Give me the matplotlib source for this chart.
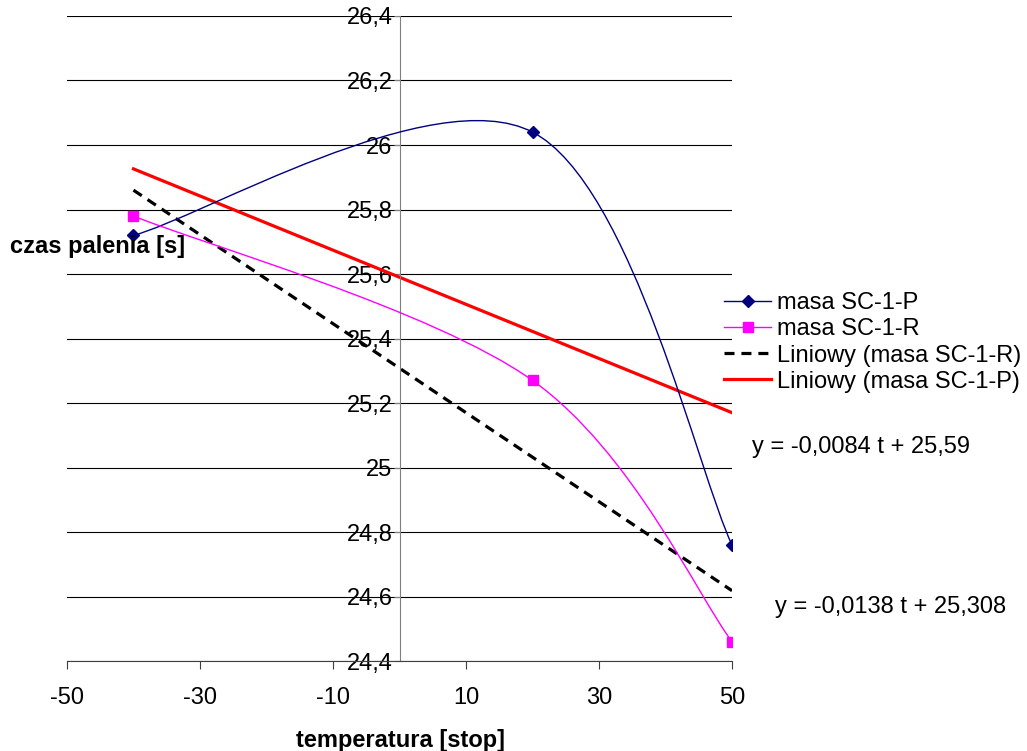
"""Czas palenia vs temperatura for masa SC-1-P / SC-1-R with linear trendlines."""

import matplotlib

matplotlib.use("Agg")
import matplotlib.pyplot as plt  # noqa: E402
from matplotlib.lines import Line2D  # noqa: E402
from matplotlib.patches import PathPatch  # noqa: E402
from matplotlib.path import Path  # noqa: E402
from matplotlib.ticker import FuncFormatter  # noqa: E402

temps = [-40, 20, 50]
masa_p = [25.72, 26.04, 24.76]
masa_r = [25.78, 25.27, 24.46]

# trendline coefficients as printed on the chart
trend_p = (-0.0084, 25.59)
trend_r = (-0.0138, 25.308)
trend_span = [-40, 50]

x_ticks = [-50, -30, -10, 10, 30, 50]
y_ticks = [24.4, 24.6, 24.8, 25.0, 25.2, 25.4, 25.6, 25.8, 26.0, 26.2, 26.4]

NAVY = "#000080"
MAGENTA = "#FF00FF"
RED = "#FF0000"
FS = 17

plt.rcParams["font.family"] = ["Liberation Sans", "DejaVu Sans"]
plt.rcParams["lines.scale_dashes"] = False
plt.rcParams["axes.unicode_minus"] = False


def smooth_path(xs, ys):
    """Excel-like smoothed line: cubic Bezier segments through the points."""
    pts = list(zip(xs, ys))
    n = len(pts)
    verts = [pts[0]]
    codes = [Path.MOVETO]
    for i in range(n - 1):
        p0 = pts[max(i - 1, 0)]
        p1 = pts[i]
        p2 = pts[i + 1]
        p3 = pts[min(i + 2, n - 1)]
        c1 = (p1[0] + (p2[0] - p0[0]) / 6, p1[1] + (p2[1] - p0[1]) / 6)
        c2 = (p2[0] - (p3[0] - p1[0]) / 6, p2[1] - (p3[1] - p1[1]) / 6)
        verts += [c1, c2, p2]
        codes += [Path.CURVE4] * 3
    return Path(verts, codes)


fig = plt.figure(figsize=(10.27, 7.51), dpi=100)
ax = fig.add_axes([0.0652, 0.1198, 0.6476, 0.8589])
ax.set_xlim(-50, 50)
ax.set_ylim(24.4, 26.4)

for y in y_ticks:
    ax.axhline(y, color="black", lw=0.8, zorder=1)

ax.add_patch(PathPatch(smooth_path(temps, masa_p), fill=False, ec=NAVY, lw=1.0, zorder=3))
ax.add_patch(PathPatch(smooth_path(temps, masa_r), fill=False, ec=MAGENTA, lw=1.0, zorder=3))
ax.plot(temps, masa_p, ls="none", marker="D", ms=6, color=NAVY, zorder=4)
ax.plot(temps, masa_r, ls="none", marker="s", ms=7, color=MAGENTA, zorder=4)

ax.plot(trend_span, [trend_r[0] * t + trend_r[1] for t in trend_span],
        color="black", lw=2.3, ls=(0, (7.2, 5)), zorder=2)
ax.plot(trend_span, [trend_p[0] * t + trend_p[1] for t in trend_span],
        color=RED, lw=2.3, zorder=2)

ax.spines["top"].set_visible(False)
ax.spines["right"].set_visible(False)
ax.spines["left"].set_position(("data", 0))
ax.spines["left"].set_color("#808080")
ax.spines["bottom"].set_color("#404040")

ax.set_xticks(x_ticks)
ax.set_yticks(y_ticks)
ax.yaxis.set_major_formatter(FuncFormatter(lambda v, _: f"{v:g}".replace(".", ",")))
ax.tick_params(axis="y", direction="out", length=4, pad=1, colors="#808080",
               labelcolor="black", labelsize=FS)
ax.tick_params(axis="x", direction="out", length=6, pad=13, colors="#404040",
               labelcolor="black", labelsize=FS)

fig.text(10 / 1027, 1 - 247 / 751, "czas palenia [s]", fontsize=FS,
         fontweight="bold", ha="left", va="center")
fig.text(400 / 1027, 1 - 740 / 751, "temperatura [stop]", fontsize=FS,
         fontweight="bold", ha="center", va="center")

fig.text(752 / 1027, 1 - 447 / 751, "y = -0,0084 t + 25,59", fontsize=FS,
         ha="left", va="center")
fig.text(775 / 1027, 1 - 607 / 751, "y = -0,0138 t + 25,308", fontsize=FS,
         ha="left", va="center")

handles = [
    Line2D([], [], color=NAVY, lw=1.0, marker="D", ms=6),
    Line2D([], [], color=MAGENTA, lw=1.0, marker="s", ms=7),
    Line2D([], [], color="black", lw=2.3, ls=(0, (7.2, 5))),
    Line2D([], [], color=RED, lw=2.3),
]
labels = ["masa SC-1-P", "masa SC-1-R", "Liniowy (masa SC-1-R)", "Liniowy (masa SC-1-P)"]
fig.legend(handles, labels, loc="upper left", bbox_to_anchor=(724 / 1027, 1 - 292 / 751),
           frameon=False, fontsize=FS, handlelength=2.0, handletextpad=0.25,
           labelspacing=0.18, borderpad=0, borderaxespad=0)

fig.savefig("out.png", dpi=100)
